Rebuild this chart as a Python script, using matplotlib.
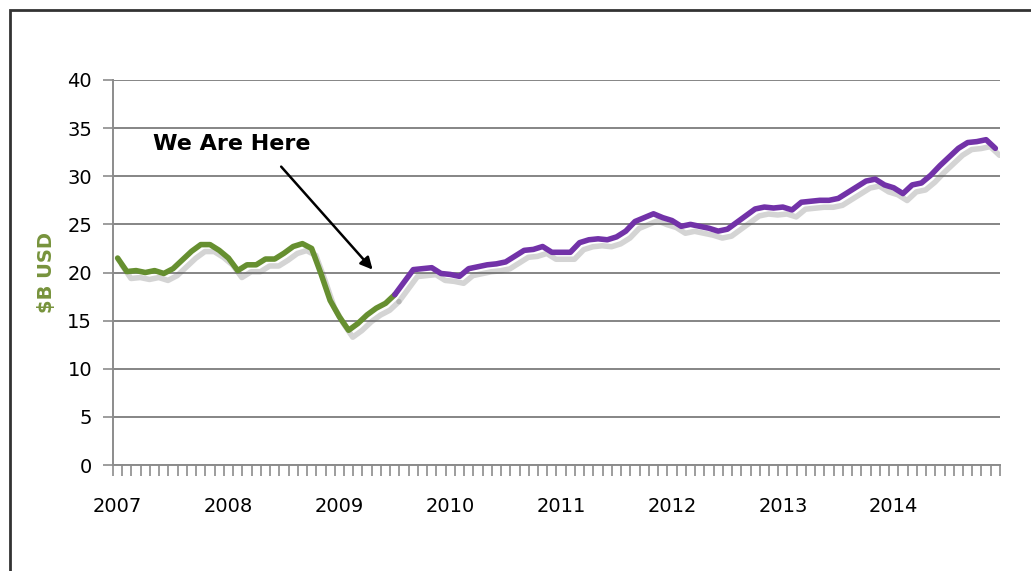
import numpy as np
import matplotlib
matplotlib.use("Agg")
import matplotlib.pyplot as plt
import matplotlib.patheffects as pe
from matplotlib.patches import Rectangle

# monthly values, Jan 2007 .. Dec 2014 ($B USD)
values = [
    21.5, 20.1, 20.2, 20.0, 20.2, 19.9, 20.4, 21.3, 22.2, 22.9, 22.9, 22.3,
    21.5, 20.2, 20.8, 20.8, 21.4, 21.4, 22.0, 22.7, 23.0, 22.5, 19.9, 17.1,
    15.4, 14.0, 14.7, 15.6, 16.3, 16.8, 17.7, 19.0, 20.3, 20.4, 20.5, 19.9,
    19.8, 19.6, 20.4, 20.6, 20.8, 20.9, 21.1, 21.7, 22.3, 22.4, 22.7, 22.1,
    22.1, 22.1, 23.1, 23.4, 23.5, 23.4, 23.7, 24.3, 25.3, 25.7, 26.1, 25.7,
    25.4, 24.8, 25.0, 24.8, 24.6, 24.3, 24.5, 25.2, 25.9, 26.6, 26.8, 26.7,
    26.8, 26.5, 27.3, 27.4, 27.5, 27.5, 27.7, 28.3, 28.9, 29.5, 29.7, 29.1,
    28.8, 28.2, 29.1, 29.3, 30.1, 31.1, 32.0, 32.9, 33.5, 33.6, 33.8, 32.9,
]
years = [2007, 2008, 2009, 2010, 2011, 2012, 2013, 2014]
split = 30  # last "actual" month (Jul 2009), rest is forecast
y_ticks = [0, 5, 10, 15, 20, 25, 30, 35, 40]

green = "#668f30"
purple = "#7232a8"

fig = plt.figure(figsize=(10.31, 5.71), dpi=100)
ax = fig.add_axes([0.1096, 0.1856, 0.8603, 0.6743])

x = np.arange(len(values)) + 0.5
shadow = [pe.SimpleLineShadow(offset=(3, -5), shadow_color="#666666", alpha=0.28),
          pe.Normal()]
ax.plot(x[:split + 1], values[:split + 1], color=green, lw=4,
        solid_capstyle="round", path_effects=shadow, zorder=3)
ax.plot(x[split:], values[split:], color=purple, lw=4,
        solid_capstyle="round", path_effects=shadow, zorder=3)

ax.set_xlim(0, len(values))
ax.set_ylim(0, 40)
ax.set_yticks(y_ticks)
ax.yaxis.grid(True, color="#858585", lw=1.4)
ax.set_axisbelow(True)

# month ticks below axis, year labels
ax.set_xticks(np.arange(0, len(values) + 1), minor=True)
ax.set_xticks([12 * i + 0.5 for i in range(len(years))])
ax.set_xticklabels([str(y) for y in years])
ax.tick_params(axis="x", which="major", length=0, pad=23, labelsize=14)
ax.tick_params(axis="x", which="minor", length=8, width=1.2, color="#8c8c8c",
               direction="out")
ax.tick_params(axis="y", length=7, width=1.2, color="#8c8c8c", labelsize=14, pad=8)

for s in ["top", "right"]:
    ax.spines[s].set_visible(False)
for s in ["left", "bottom"]:
    ax.spines[s].set_color("#8c8c8c")
    ax.spines[s].set_linewidth(1.4)

ax.set_ylabel("$B USD", color="#77933c", fontsize=14, fontweight="bold", labelpad=8)

ax.text(12.8, 33.3, "We Are Here", fontsize=16, fontweight="bold",
        ha="center", va="center")
ax.annotate("", xy=(28.1, 20.3), xytext=(18.2, 31.0),
            arrowprops=dict(arrowstyle="-|>", color="black", lw=1.8,
                            mutation_scale=18, shrinkA=0, shrinkB=0))

# outer frame of the original slide
fig.patches.append(Rectangle((10 / 1031, -0.1), 1.2, (571 - 10) / 571 + 0.1,
                             transform=fig.transFigure, fill=False,
                             edgecolor="#333333", lw=2))

fig.savefig("out.png", dpi=100)
